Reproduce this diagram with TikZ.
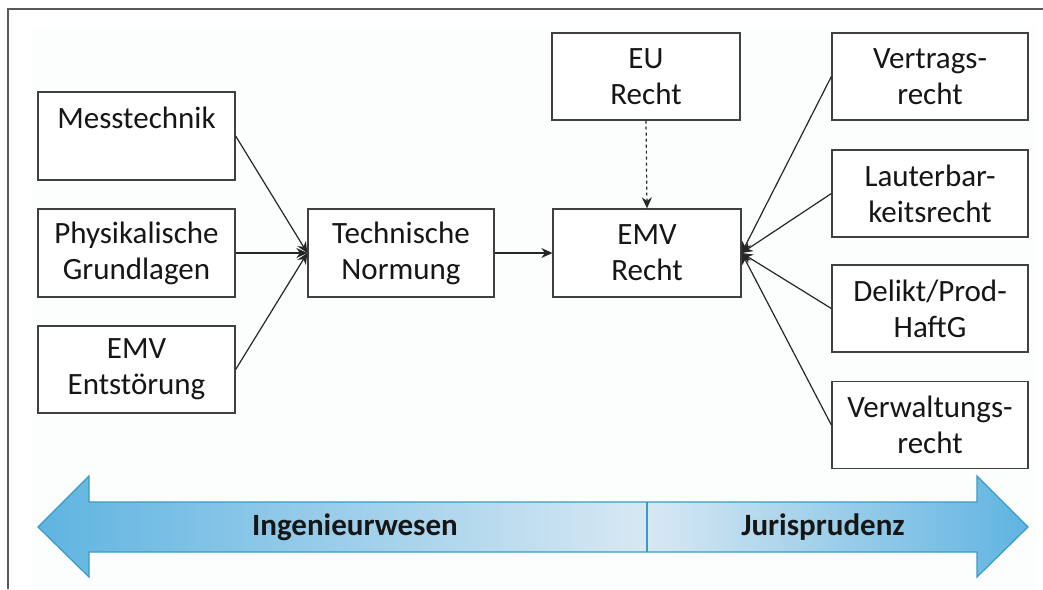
\documentclass[tikz,border=0pt]{standalone}
\usepackage{fontspec}
\setmainfont{Carlito}
\usetikzlibrary{arrows.meta}
\definecolor{boxline}{RGB}{64,64,64}
\definecolor{txt}{RGB}{22,22,22}
\definecolor{arrowline}{RGB}{58,155,197}
\definecolor{blueA}{RGB}{95,180,225}
\definecolor{blueB}{RGB}{216,232,243}
\definecolor{bgtint}{RGB}{252,253,253}
\tikzset{
  box/.style={draw=boxline, line width=1.3pt, fill=white, text=txt, align=center,
    minimum width=196pt, minimum height=87pt, inner sep=2pt,
    font=\fontsize{31pt}{36pt}\selectfont},
  conn/.style={draw=black!85, line width=1.2pt, -{Stealth[length=11pt,width=10pt]}},
  blabel/.style={text=txt, font=\fontsize{31pt}{34pt}\selectfont\bfseries}
}
\begin{document}
\begin{tikzpicture}[x=1pt,y=-1pt]
\useasboundingbox (0,0) rectangle (1043,589);
\fill[white] (0,0) rectangle (1043,589);
\fill[bgtint] (33,27) rectangle (1035,589);
\draw[black!65, line width=1.2pt] (8,589) -- (8,9) -- (1043,9);

% left column
\node[box, minimum width=197pt, minimum height=88pt] (mess) at (136.5,136) {Messtechnik\\\mbox{}};
\node[box, minimum width=197pt, minimum height=88pt] (phys) at (136.5,253) {Physikalische\\Grundlagen};
\node[box, minimum width=197pt] (entst) at (136.5,369.5) {EMV\\Entstörung};

% middle
\node[box, minimum width=186pt, minimum height=88pt] (tech) at (401,253) {Technische\\Normung};
\node[box, minimum width=188pt, minimum height=88pt] (emv) at (647,253) {EMV\\Recht};
\node[box, minimum width=188pt] (eu) at (646,76.5) {EU\\Recht};

% right column
\node[box] (vert) at (930,76.5) {Vertrags-\\recht};
\node[box] (laut) at (930,193.5) {Lauterbar-\\keitsrecht};
\node[box] (delikt) at (930,308.5) {Delikt/Prod-\\HaftG};
\node[box] (verw) at (930,425) {Verwaltungs-\\recht};

% connectors
\draw[conn] (mess.east) -- (tech.west);
\draw[conn] (phys.east) -- (tech.west);
\draw[conn] (entst.east) -- (tech.west);
\draw[conn] (tech.east) -- (emv.west);
\draw[conn, dashed] (eu.south) -- (emv.north);
\draw[conn] (vert.west) -- (emv.east);
\draw[conn] (laut.west) -- (emv.east);
\draw[conn] (delikt.west) -- (emv.east);
\draw[conn] (verw.west) -- (emv.east);

% bottom double arrow
\shade[left color=blueA, right color=blueB]
  (38,527) -- (89,476) -- (89,502) -- (647,502) -- (647,552) -- (89,552) -- (89,577) -- cycle;
\shade[left color=blueB, right color=blueA]
  (647,502) -- (977,502) -- (977,476) -- (1028,527) -- (977,577) -- (977,552) -- (647,552) -- cycle;
\draw[arrowline, line width=1.2pt, line join=miter]
  (38,527) -- (89,476) -- (89,502) -- (977,502) -- (977,476) -- (1028,527)
  -- (977,577) -- (977,552) -- (89,552) -- (89,577) -- cycle;
\draw[arrowline, line width=1.2pt] (647,502) -- (647,552);
\node[blabel] (ing) at (355,527) {Ingenieurwesen};
\node[blabel] (jur) at (823,527) {Jurisprudenz};
\end{tikzpicture}
\end{document}
